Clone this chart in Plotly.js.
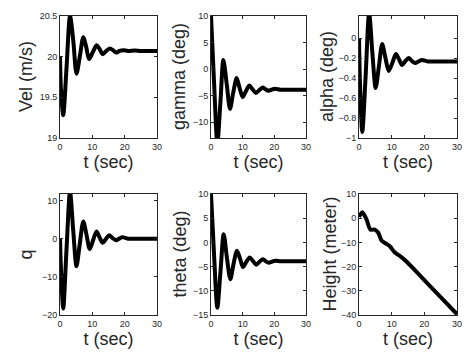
<!DOCTYPE html>
<html>
<head>
<meta charset="utf-8">
<script src="https://cdn.plot.ly/plotly-3.0.1.min.js"></script>
<style>
  html, body { margin: 0; padding: 0; background: #fff; }
  #chart { width: 472px; height: 357px; }
</style>
</head>
<body>
<div id="chart"></div>
<script>
// values, time in seconds
var tVel = [0, 0.3, 1.0, 2.0, 3.1, 4.1, 5.1, 6.2, 7.2, 8.1, 9.0, 10.2, 11.3, 12.3, 13.2, 14.3, 15.4, 16.4, 17.3, 18.4, 19.5, 21, 23, 25, 27, 30];
var vel  = [20.0, 19.6, 19.28, 19.85, 20.5, 20.2, 19.79, 20.02, 20.24, 20.12, 19.97, 20.06, 20.14, 20.09, 20.03, 20.07, 20.1, 20.08, 20.05, 20.07, 20.08, 20.07, 20.075, 20.07, 20.07, 20.07];

var tGamma = [0, 1.0, 2.0, 3.0, 3.9, 5.0, 6.0, 7.0, 8.1, 9.0, 10.0, 11.0, 12.1, 13.1, 14.2, 15.2, 16.3, 17.2, 18.1, 19.1, 20.2, 22, 25, 30];
var gamma  = [10, -3, -14, -6, 1.7, -3, -7.5, -4.5, -1.7, -3.5, -5.3, -4.2, -3.1, -3.8, -4.5, -4.0, -3.5, -3.8, -4.1, -3.9, -3.7, -3.9, -3.9, -3.9];

var tAlpha = [0, 0.3, 1.0, 2.0, 3.1, 4.1, 5.1, 6.1, 7.1, 8.1, 9.1, 10.2, 11.3, 12.2, 13.2, 14.2, 15.2, 16.2, 17.2, 18.2, 19.3, 21, 24, 27, 30];
var alpha  = [0, -0.45, -0.94, -0.4, 0.25, -0.15, -0.5, -0.28, -0.06, -0.2, -0.33, -0.25, -0.16, -0.21, -0.27, -0.23, -0.2, -0.23, -0.25, -0.235, -0.22, -0.235, -0.235, -0.235, -0.235];

var tQ = [0, 0.3, 1.0, 2.0, 3.1, 4.1, 5.1, 6.1, 7.2, 8.2, 9.2, 10.2, 11.3, 12.2, 13.2, 14.2, 15.2, 16.2, 17.3, 18.3, 19.3, 21, 24, 27, 30];
var q  = [0, -8, -18.3, -3, 12.3, 2, -7.2, -1.5, 4.5, 1, -2.7, -0.5, 1.9, 0.4, -1.1, -0.1, 0.9, 0.2, -0.4, 0, 0.4, 0, 0, 0, 0];

var tTheta = [0, 1.0, 2.0, 3.0, 4.0, 5.0, 6.1, 7.1, 8.2, 9.2, 10.1, 11.1, 12.2, 13.2, 14.3, 15.3, 16.4, 17.3, 18.2, 19.2, 20.3, 22, 25, 30];
var theta  = [10, -3, -13.5, -6, 1.7, -3, -7.6, -4.5, -1.7, -3.4, -5.1, -4.1, -3.1, -3.8, -4.6, -4.0, -3.5, -3.9, -4.2, -4.0, -3.8, -3.9, -3.9, -3.9];

var tHeight = [0, 1.0, 2.3, 3.5, 4.8, 5.9, 6.9, 8.4, 9.5, 11, 12.5, 14.6, 20, 25, 30];
var height  = [0.5, 2.5, -0.5, -4.7, -4.7, -6, -9.2, -10.6, -11.7, -14.2, -15.6, -18, -25.6, -32.6, -39.7];

var series = [
  [tVel, vel], [tGamma, gamma], [tAlpha, alpha],
  [tQ, q], [tTheta, theta], [tHeight, height]
];
var yTitles = ['Vel (m/s)', 'gamma (deg)', 'alpha (deg)', 'q', 'theta (deg)', 'Height (meter)'];
var yRanges = [[19, 20.5], [-13, 10], [-1, 0.22], [-20, 11.7], [-15, 10], [-40, 10]];
var yTicks = [
  [19, 19.5, 20, 20.5],
  [-10, -5, 0, 5, 10],
  [-1, -0.8, -0.6, -0.4, -0.2, 0],
  [-20, -10, 0, 10],
  [-15, -10, -5, 0, 5, 10],
  [-40, -30, -20, -10, 0, 10]
];
var xTicks = [0, 10, 20, 30];

var W = 472, H = 357;
var colPx = [[60, 157], [211, 306], [359, 457]];
var rowPx = [[16, 138], [194, 315]];
var titleX = [26, 179, 327, 25, 179, 329];

var data = [];
var annotations = [];
var layout = {
  width: W, height: H,
  margin: {l: 0, r: 0, t: 0, b: 0},
  showlegend: false,
  paper_bgcolor: '#fff',
  plot_bgcolor: '#fff',
  font: {family: 'Liberation Sans, Arial, sans-serif', color: '#262626'}
};

for (var i = 0; i < 6; i++) {
  var n = i === 0 ? '' : String(i + 1);
  var c = colPx[i % 3], r = rowPx[Math.floor(i / 3)];
  data.push({
    x: series[i][0], y: series[i][1],
    xaxis: 'x' + n, yaxis: 'y' + n,
    type: 'scatter', mode: 'lines',
    line: {color: '#000', width: 4, shape: 'spline', smoothing: 0.8}
  });
  var common = {
    showline: true, mirror: 'ticks', linecolor: '#262626', linewidth: 1,
    ticks: 'inside', ticklen: 3, tickcolor: '#262626',
    showgrid: false, zeroline: false,
    tickfont: {size: 9, color: '#262626'}
  };
  layout['xaxis' + n] = Object.assign({}, common, {
    domain: [c[0] / W, c[1] / W],
    anchor: 'y' + n,
    range: [0, 30], tickvals: xTicks,
    title: {text: 't (sec)', font: {size: 18, color: '#262626'}, standoff: 1}
  });
  layout['yaxis' + n] = Object.assign({}, common, {
    domain: [1 - r[1] / H, 1 - r[0] / H],
    anchor: 'x' + n,
    range: yRanges[i], tickvals: yTicks[i]
  });
  annotations.push({
    text: yTitles[i], textangle: -90, showarrow: false,
    xref: 'paper', yref: 'paper',
    x: titleX[i] / W, y: 1 - (r[0] + r[1]) / 2 / H,
    xanchor: 'center', yanchor: 'middle',
    font: {size: 18, color: '#262626'}
  });
}
layout.annotations = annotations;

Plotly.newPlot('chart', data, layout, {staticPlot: true});
</script>
</body>
</html>
